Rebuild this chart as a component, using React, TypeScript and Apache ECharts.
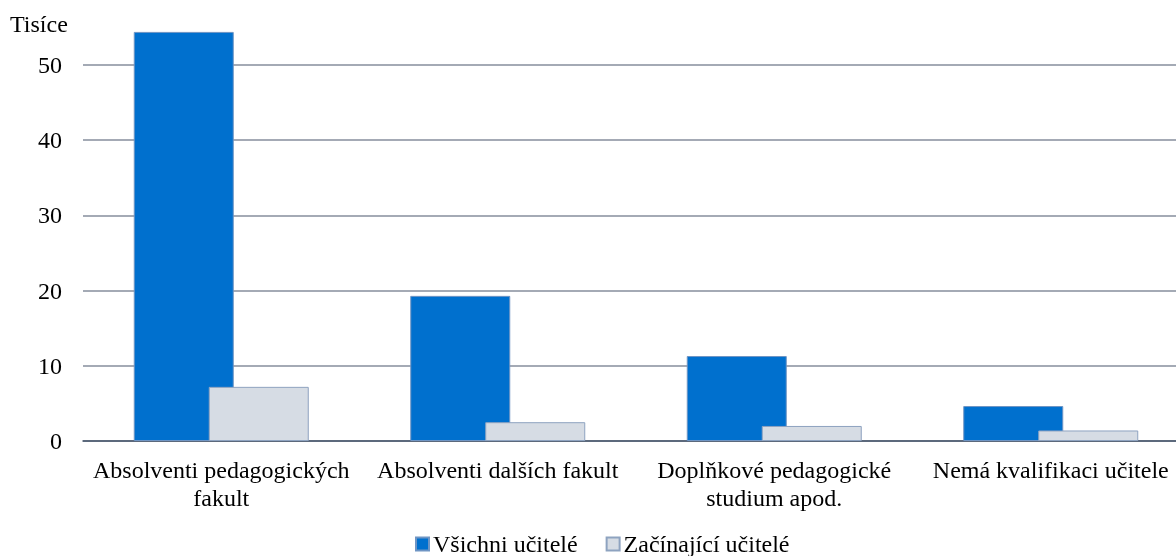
import React, { useEffect, useRef } from "react";
import * as echarts from "echarts";

const categories = [
  "Absolventi pedagogických\nfakult",
  "Absolventi dalších fakult",
  "Doplňkové pedagogické\nstudium apod.",
  "Nemá kvalifikaci učitele",
];
const allTeachers = [54.4, 19.3, 11.3, 4.65];
const newTeachers = [7.2, 2.5, 2.0, 1.4];
const seriesNames = ["Všichni učitelé", "Začínající učitelé"];
const yTicks = [0, 10, 20, 30, 40, 50];

const FONT = "'Liberation Serif', 'Times New Roman', serif";
const FS = 24;

export default function App() {
  const ref = useRef<HTMLDivElement>(null);
  useEffect(() => {
    if (!ref.current) return;
    const chart = echarts.init(ref.current, undefined, { renderer: "svg" });
    chart.setOption({
      animation: false,
      textStyle: { fontFamily: FONT },
      grid: { left: 83, right: 1, top: 27.4, bottom: 115, containLabel: false },
      legend: {
        bottom: 0,
        left: 415,
        itemWidth: 13,
        itemHeight: 13,
        itemGap: 28,
        icon: "rect",
        padding: 0,
        textStyle: { fontFamily: FONT, fontSize: FS, color: "#000", padding: [0, 0, 0, -1] },
        data: seriesNames,
      },
      graphic: [
        {
          type: "text",
          left: 10,
          top: 12,
          style: { text: "Tisíce", font: `${FS}px ${FONT}`, fill: "#000" },
        },
      ],
      xAxis: {
        type: "category",
        data: categories,
        axisLine: { lineStyle: { color: "#44546A", width: 1.5 } },
        axisTick: { show: false },
        axisLabel: {
          fontFamily: FONT,
          fontSize: FS,
          color: "#000",
          lineHeight: 28,
          margin: 15,
          interval: 0,
        },
      },
      yAxis: {
        type: "value",
        min: 0,
        max: 55,
        interval: 10,
        axisLine: { show: false },
        axisTick: { show: false },
        axisLabel: {
          fontFamily: FONT,
          fontSize: FS,
          color: "#000",
          margin: 21,
          showMaxLabel: false,
          formatter: (v: number) => (yTicks.includes(v) ? String(v) : ""),
        },
        splitLine: { show: true, showMaxLine: false, lineStyle: { color: "#868E9C", width: 1.5 } },
      },
      series: [
        {
          name: seriesNames[0],
          type: "bar",
          data: allTeachers,
          barWidth: 100,
          barGap: "-25%",
          itemStyle: { color: "#0070CE", borderColor: "#6F95C4", borderWidth: 1 },
        },
        {
          name: seriesNames[1],
          type: "bar",
          data: newTeachers,
          barWidth: 100,
          barGap: "-25%",
          itemStyle: { color: "#D6DCE4", borderColor: "#8EA3C0", borderWidth: 1 },
        },
      ],
    });
    return () => chart.dispose();
  }, []);
  return (
    <div
      ref={ref}
      style={{ position: "fixed", left: 0, top: 0, width: 1190, height: 556 }}
    />
  );
}
